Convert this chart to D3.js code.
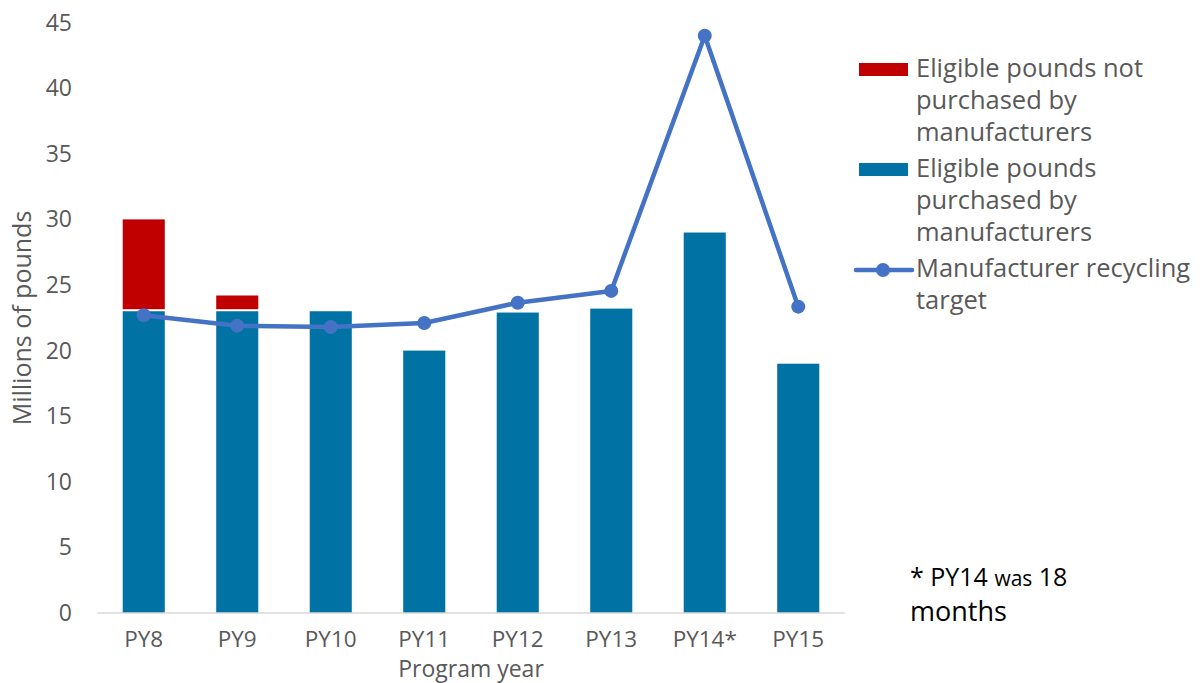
<!DOCTYPE html>
<html>
<head>
<meta charset="utf-8">
<style>
  body { margin: 0; background: #fff; }
  svg text { font-family: 'Open Sans', 'Noto Sans', sans-serif; fill: #595959; }
</style>
</head>
<body>
<div id="chart"></div>
<script src="https://d3js.org/d3.v7.min.js"></script>
<script>
  // data
  const years = ['PY8', 'PY9', 'PY10', 'PY11', 'PY12', 'PY13', 'PY14*', 'PY15'];
  const purchased = [23.0, 23.0, 23.0, 20.0, 22.9, 23.2, 29.0, 19.0];
  const notPurchased = [7.0, 1.2, 0, 0, 0, 0, 0, 0];
  const target = [22.7, 21.9, 21.8, 22.1, 23.65, 24.55, 44.0, 23.35];
  const yTicks = [0, 5, 10, 15, 20, 25, 30, 35, 40, 45];

  const width = 1201, height = 683;
  const RED = '#c00000', BLUE = '#0072a4', LINE = '#4472c4';

  const svg = d3.select('#chart').append('svg')
      .attr('width', width)
      .attr('height', height);

  const x = d3.scaleBand()
      .domain(years)
      .range([97, 845])
      .paddingInner(0.55)
      .paddingOuter(0.275);

  const y = d3.scaleLinear()
      .domain([0, 45])
      .range([613, 22.6]);

  // y tick labels
  svg.append('g').selectAll('text')
      .data(yTicks)
      .join('text')
      .attr('x', 72)
      .attr('y', d => y(d))
      .attr('dy', '0.35em')
      .attr('text-anchor', 'end')
      .style('font-size', '23px')
      .text(d => d);

  // bars
  const bars = svg.append('g');
  bars.selectAll('rect.purchased')
      .data(years)
      .join('rect')
      .attr('class', 'purchased')
      .attr('x', d => x(d))
      .attr('width', x.bandwidth())
      .attr('y', (d, i) => y(purchased[i]))
      .attr('height', (d, i) => y(0) - y(purchased[i]))
      .attr('fill', BLUE);

  bars.selectAll('rect.not')
      .data(years.filter((d, i) => notPurchased[i] > 0))
      .join('rect')
      .attr('class', 'not')
      .attr('x', d => x(d))
      .attr('width', x.bandwidth())
      .attr('y', d => { const i = years.indexOf(d); return y(purchased[i] + notPurchased[i]); })
      .attr('height', d => { const i = years.indexOf(d); return y(purchased[i]) - y(purchased[i] + notPurchased[i]) - 2; })
      .attr('fill', RED);

  // x axis line
  svg.append('line')
      .attr('x1', 97).attr('x2', 845)
      .attr('y1', y(0)).attr('y2', y(0))
      .attr('stroke', '#d9d9d9')
      .attr('stroke-width', 1.5);

  // x labels
  svg.append('g').selectAll('text')
      .data(years)
      .join('text')
      .attr('x', d => x(d) + x.bandwidth() / 2)
      .attr('y', 647)
      .attr('text-anchor', 'middle')
      .style('font-size', '22.5px')
      .text(d => d);

  // target line
  const cx = (d, i) => x(years[i]) + x.bandwidth() / 2;
  const line = d3.line()
      .x(cx)
      .y(d => y(d));

  svg.append('path')
      .datum(target)
      .attr('d', line)
      .attr('fill', 'none')
      .attr('stroke', LINE)
      .attr('stroke-width', 4.5)
      .attr('stroke-linejoin', 'round');

  svg.append('g').selectAll('circle')
      .data(target)
      .join('circle')
      .attr('cx', cx)
      .attr('cy', d => y(d))
      .attr('r', 7)
      .attr('fill', LINE);

  // axis titles
  svg.append('text')
      .attr('transform', `translate(31,${318}) rotate(-90)`)
      .attr('text-anchor', 'middle')
      .style('font-size', '25px')
      .text('Millions of pounds');

  svg.append('text')
      .attr('x', 471)
      .attr('y', 677)
      .attr('text-anchor', 'middle')
      .style('font-size', '23px')
      .text('Program year');

  // legend
  const legend = svg.append('g');
  const legendItems = [
    { type: 'bar', color: RED, lines: ['Eligible pounds not', 'purchased by', 'manufacturers'], y: 77 },
    { type: 'bar', color: BLUE, lines: ['Eligible pounds', 'purchased by', 'manufacturers'], y: 177 },
    { type: 'line', color: LINE, lines: ['Manufacturer recycling', 'target'], y: 277 }
  ];
  legendItems.forEach(it => {
    if (it.type === 'bar') {
      legend.append('rect')
          .attr('x', 859).attr('y', it.y - 14)
          .attr('width', 49).attr('height', 13)
          .attr('fill', it.color);
    } else {
      legend.append('line')
          .attr('x1', 856).attr('x2', 912)
          .attr('y1', it.y - 7).attr('y2', it.y - 7)
          .attr('stroke', it.color).attr('stroke-width', 4.5)
          .attr('stroke-linecap', 'round');
      legend.append('circle')
          .attr('cx', 883).attr('cy', it.y - 7).attr('r', 7)
          .attr('fill', it.color);
    }
    const t = legend.append('text')
        .attr('x', 916).attr('y', it.y)
        .style('font-size', '25.5px');
    t.selectAll('tspan')
        .data(it.lines)
        .join('tspan')
        .attr('x', 916)
        .attr('dy', (d, i) => i === 0 ? 0 : 32)
        .text(d => d);
  });

  // footnote
  const note = svg.append('text')
      .attr('x', 910).attr('y', 586)
      .style('fill', '#000')
      .style('font-size', '25px');
  note.append('tspan').text('* PY14 ');
  note.append('tspan').style('font-size', '21px').text('was');
  note.append('tspan').text(' 18');
  svg.append('text')
      .attr('x', 910).attr('y', 621)
      .style('fill', '#000')
      .style('font-size', '27px')
      .text('months');
</script>
</body>
</html>
